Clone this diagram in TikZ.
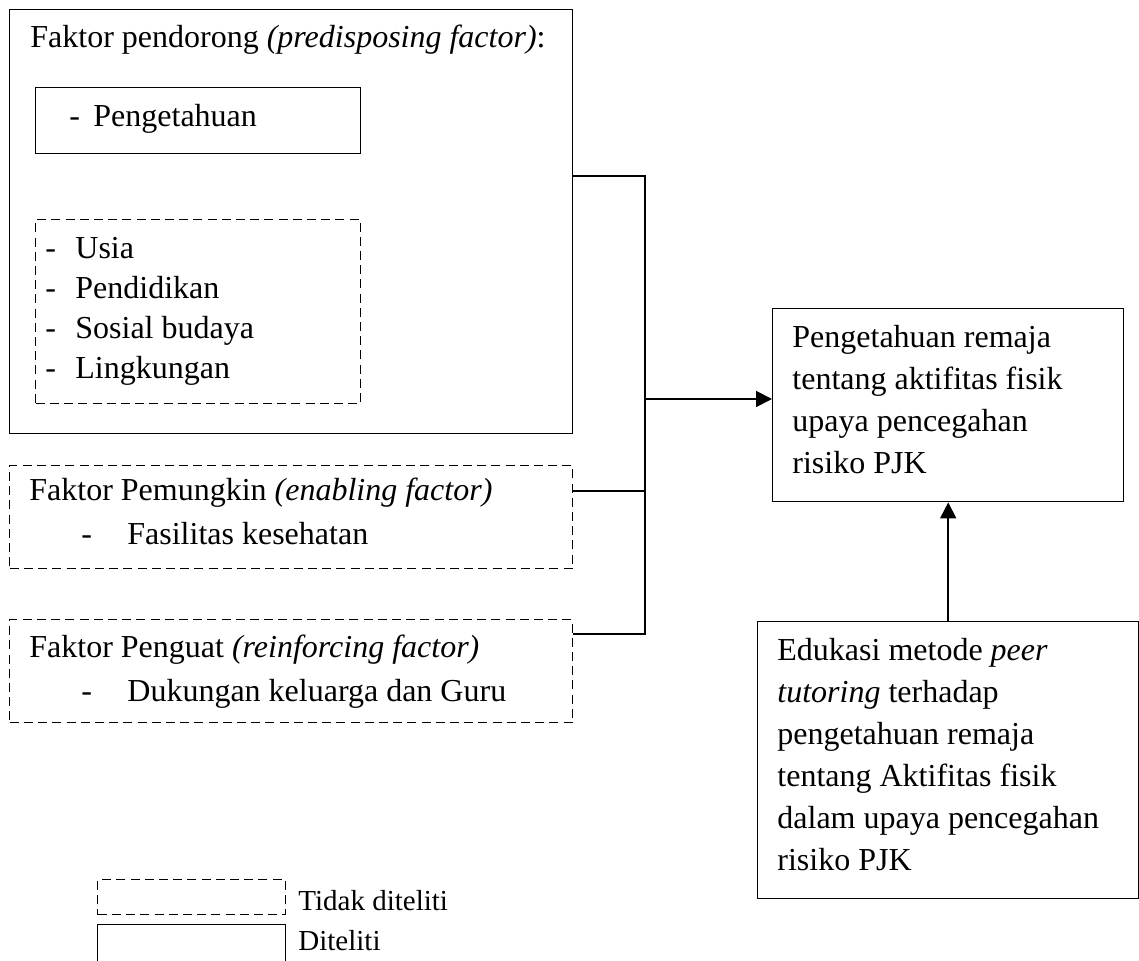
\documentclass[tikz,border=0pt]{standalone}
\usepackage{fontspec}
\setmainfont{Liberation Serif}
\usetikzlibrary{arrows.meta}

\tikzset{
  plainbox/.style={draw, line width=0.7pt, anchor=north west, inner sep=0pt},
  dashbox/.style={plainbox, dash pattern=on 4.5pt off 2.6pt},
  txt/.style={anchor=base west, inner sep=0pt},
  para/.style={anchor=north west, inner sep=0pt, align=left},
  ket/.style={txt, font=\fontsize{14.5}{18}\selectfont},
  link/.style={line width=0.9pt},
  arrow/.style={link, -{Triangle[length=8pt,width=8pt]}}
}

\begin{document}
\begin{tikzpicture}[x=0.5pt, y=-0.5pt, font=\fontsize{16}{21}\selectfont]
        \useasboundingbox (0,0) rectangle (1139,961);
        % faktor pendorong
        \node[plainbox, minimum width=281.5pt, minimum height=212pt] (pendorong) at (9,9) {};
        \node[txt] (judul1) at (30,48) {Faktor pendorong \textit{(predisposing factor)}:};
        \node[plainbox, minimum width=162.5pt, minimum height=33pt] (tahubox) at (35,87) {};
        \node[txt] (tahustrip) at (69,127) {-};
        \node[txt] (tahu) at (93,127) {Pengetahuan};
        \node[dashbox, minimum width=162.5pt, minimum height=92pt] (lainbox) at (35,219) {};
        \foreach \faktor [count=\i] in {Usia, Pendidikan, Sosial budaya, Lingkungan} {
            \node[txt] (strip\i) at (45,219+40*\i) {-};
            \node[txt] (lain\i) at (75,219+40*\i) {\faktor};
        }
        % faktor pemungkin
        \node[dashbox, minimum width=281.5pt, minimum height=51.5pt] (pemungkin) at (9,465) {};
        \node[txt] (judul2) at (29,501) {Faktor Pemungkin \textit{(enabling factor)}};
        \node[txt] (strip5) at (81,545) {-};
        \node[txt] (fasilitas) at (127,545) {Fasilitas kesehatan};
        % faktor penguat
        \node[dashbox, minimum width=281.5pt, minimum height=51.5pt] (penguat) at (9,619) {};
        \node[txt] (judul3) at (29,657) {Faktor Penguat \textit{(reinforcing factor)}};
        \node[txt] (strip6) at (81,701) {-};
        \node[txt] (dukungan) at (127,701) {Dukungan keluarga dan Guru};
        % hasil
        \node[plainbox, minimum width=175.5pt, minimum height=96.5pt] (remaja) at (772,308) {};
        \node[para] (remajatxt) at (792,325) {Pengetahuan remaja\\tentang aktifitas fisik\\upaya pencegahan\\risiko PJK};
        \node[plainbox, minimum width=190.5pt, minimum height=138.5pt] (edukasi) at (757,621) {};
        \node[para] (edukasitxt) at (777,638) {Edukasi metode \textit{peer}\\\textit{tutoring} terhadap\\pengetahuan remaja\\tentang Aktifitas fisik\\dalam upaya pencegahan\\risiko PJK};
        % keterangan
        \node[dashbox, minimum width=94pt, minimum height=17.5pt] (ketdash) at (97,879) {};
        \node[plainbox, minimum width=94pt, minimum height=22.5pt] (ketsolid) at (97,924) {};
        \node[ket] (ket1) at (298,910) {Tidak diteliti};
        \node[ket] (ket2) at (298,950) {Diteliti};
        % garis penghubung
        \coordinate (bus1) at (645,176);
        \coordinate (bus2) at (645,491);
        \coordinate (bus3) at (645,634);
        \coordinate (busout) at (645,399);
        \draw[link] (pendorong.east |- bus1) -- (bus1) -- (bus3) -- (penguat.east |- bus3);
        \draw[link] (pemungkin.east |- bus2) -- (bus2);
        \draw[arrow] (busout) -- (remaja.west |- busout);
        \draw[arrow] (edukasi.north) -- (remaja.south -| edukasi.north);
    \end{tikzpicture}
\end{document}
